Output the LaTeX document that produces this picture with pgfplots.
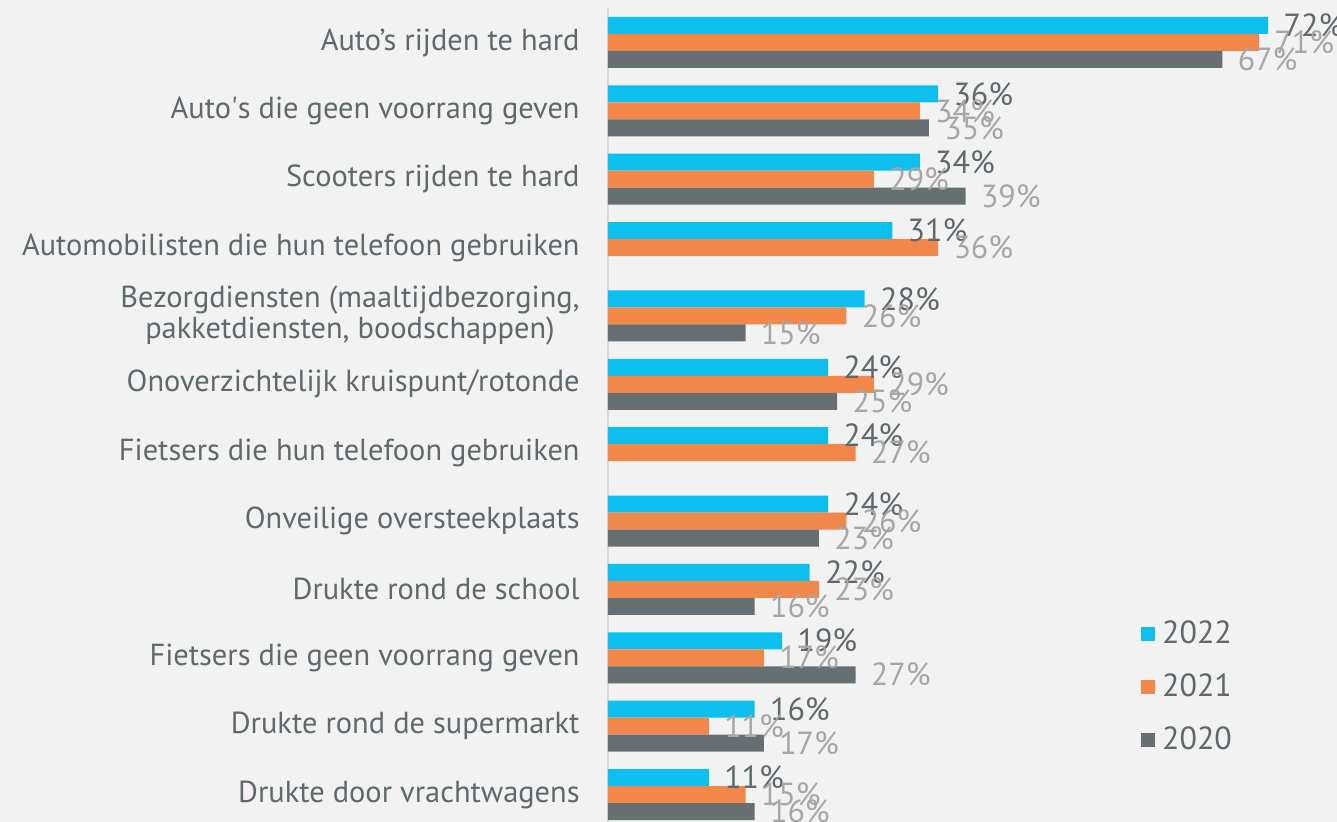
\documentclass[border=0pt]{standalone}
\usepackage{fontspec}
\setmainfont{PT Sans}
\usepackage{pgfplots}
\pgfplotsset{compat=1.18}
\usetikzlibrary{backgrounds}
\definecolor{c22}{HTML}{0DBFEF}
\definecolor{c21}{HTML}{F2874A}
\definecolor{c20}{HTML}{676F72}
\definecolor{bg}{HTML}{F2F2F2}
\definecolor{txt}{HTML}{5F696C}
\definecolor{lbl}{HTML}{A6A6A6}
\begin{document}
\begin{tikzpicture}
\begin{axis}[
  name=ax,
  scale only axis,
  width=364.5pt, height=410.2pt,
  xbar, bar width=8.5pt,
  xmin=0, xmax=79.5,
  ymin=-0.5, ymax=11.5,
  y dir=reverse,
  axis x line=none,
  axis y line*=left,
  y axis line style={draw=black!14, line width=1pt, -},
  ytick={0,...,11},
  yticklabels={Auto’s rijden te hard,
    Auto\textquotesingle s die geen voorrang geven,
    Scooters rijden te hard,
    Automobilisten die hun telefoon gebruiken,
    {Bezorgdiensten (maaltijdbezorging,\\pakketdiensten, boodschappen)},
    Onoverzichtelijk kruispunt/rotonde,
    Fietsers die hun telefoon gebruiken,
    Onveilige oversteekplaats,
    Drukte rond de school,
    Fietsers die geen voorrang geven,
    Drukte rond de supermarkt,
    Drukte door vrachtwagens},
  ytick style={draw=none},
  major tick length=0pt,
  yticklabel style={font=\fontsize{15.2}{15.5}\selectfont, text=txt, align=center,
    anchor=east, inner sep=0pt, xshift=-14pt},
  /pgf/number format/assume math mode=true,
  nodes near coords={\pgfmathprintnumber{\pgfplotspointmeta}\%},
  every node near coord/.append style={anchor=west, inner sep=0pt, xshift=7.5pt,
    font=\fontsize{16}{16}\selectfont},
  legend style={draw=none, fill=none, at={(axis cs:58.1,8.4)}, anchor=north west,
    inner sep=0pt, row sep=9.5pt, font=\fontsize{16}{18}\selectfont, text=txt,
    cells={anchor=west}, nodes={inner xsep=3.5pt}},
  clip=false,
]
\addplot[draw=none, fill=c22, bar shift=8.5pt,
  every node near coord/.append style={text=txt},
  legend image code/.code={\fill[c22] (0pt,-3.5pt) rectangle (7pt,3.5pt);}]
  coordinates {(72,0) (36,1) (34,2) (31,3) (28,4) (24,5) (24,6) (24,7) (22,8) (19,9) (16,10) (11,11)};
\addlegendentry{2022}
\addplot[draw=none, fill=c21, bar shift=0pt,
  every node near coord/.append style={text=lbl},
  legend image code/.code={\fill[c21] (0pt,-3.5pt) rectangle (7pt,3.5pt);}]
  coordinates {(71,0) (34,1) (29,2) (36,3) (26,4) (29,5) (27,6) (26,7) (23,8) (17,9) (11,10) (15,11)};
\addlegendentry{2021}
\addplot[draw=none, fill=c20, bar shift=-8.5pt,
  every node near coord/.append style={text=lbl},
  legend image code/.code={\fill[c20] (0pt,-3.5pt) rectangle (7pt,3.5pt);}]
  coordinates {(67,0) (35,1) (39,2) (15,4) (25,5) (23,7) (16,8) (27,9) (17,10) (16,11)};
\addlegendentry{2020}
\end{axis}
\pgfresetboundingbox
\path[use as bounding box] ([xshift=-304pt,yshift=3.35pt]ax.south west) rectangle ([yshift=4.15pt]ax.north east);
\begin{pgfonlayer}{background}
\fill[bg] ([xshift=-304pt,yshift=3.35pt]ax.south west) rectangle ([yshift=4.15pt]ax.north east);
\end{pgfonlayer}
\end{tikzpicture}
\end{document}
